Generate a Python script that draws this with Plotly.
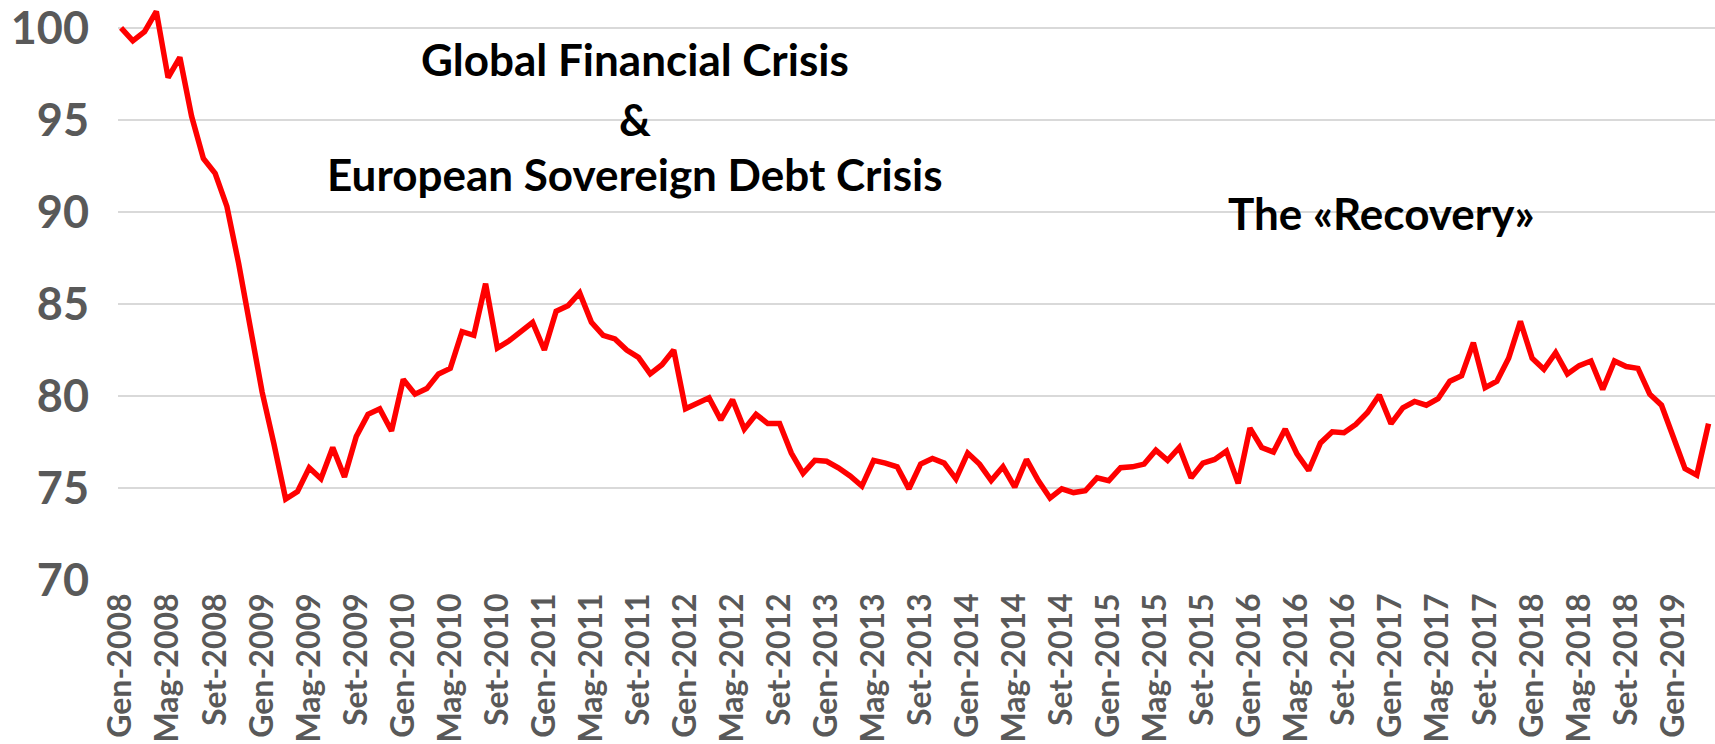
"""
Index chart 2008-2019 with crisis / recovery labels
"""

import plotly.graph_objects as go

# month abbreviations (Italian) and years covered
month_names = ["Gen", "Feb", "Mar", "Apr", "Mag", "Giu",
               "Lug", "Ago", "Set", "Ott", "Nov", "Dic"]
years = list(range(2008, 2020))

# index values, one list per year (Jan..Dec)
v2008 = [100.0, 99.3, 99.8, 100.9, 97.3, 98.4, 95.2, 92.9, 92.1, 90.3, 87.2, 83.5]
v2009 = [80.2, 77.4, 74.4, 74.8, 76.1, 75.5, 77.2, 75.6, 77.8, 79.0, 79.3, 78.1]
v2010 = [80.9, 80.1, 80.4, 81.2, 81.5, 83.5, 83.3, 86.1, 82.6, 83.0, 83.5, 84.0]
v2011 = [82.5, 84.6, 84.9, 85.6, 84.0, 83.3, 83.1, 82.5, 82.1, 81.2, 81.7, 82.5]
v2012 = [79.3, 79.6, 79.9, 78.7, 79.8, 78.2, 79.0, 78.5, 78.5, 76.9, 75.8, 76.5]
v2013 = [76.45, 76.1, 75.65, 75.1, 76.5, 76.35, 76.15, 74.95, 76.3, 76.6, 76.35, 75.5]
v2014 = [76.9, 76.3, 75.4, 76.15, 75.05, 76.55, 75.4, 74.45, 74.95, 74.75, 74.85, 75.55]
v2015 = [75.4, 76.1, 76.15, 76.3, 77.05, 76.5, 77.2, 75.55, 76.35, 76.55, 77.0, 75.25]
v2016 = [78.25, 77.2, 76.95, 78.2, 76.85, 75.95, 77.45, 78.05, 78.0, 78.45, 79.1, 80.05]
v2017 = [78.5, 79.35, 79.7, 79.5, 79.85, 80.8, 81.1, 82.9, 80.45, 80.8, 82.05, 84.05]
v2018 = [82.05, 81.45, 82.35, 81.2, 81.65, 81.9, 80.35, 81.9, 81.6, 81.5, 80.1, 79.5]
v2019 = [77.8, 76.05, 75.7, 78.5]

# annotation texts
label_crisis = ["Global Financial Crisis", "&", "European Sovereign Debt Crisis"]
label_recovery = "The «Recovery»"


def buildSeries():
    values = v2008 + v2009 + v2010 + v2011 + v2012 + v2013 + \
        v2014 + v2015 + v2016 + v2017 + v2018 + v2019
    labels = []
    for y in years:
        for m in month_names:
            labels.append(m + "-" + str(y))
    labels = labels[:len(values)]
    return labels, values


def makeLinePlot(labels, values):
    fig = go.Figure()
    fig.add_trace(go.Scatter(x=labels, y=values, mode="lines",
                             line=dict(color="#FF0000", width=5.5),
                             hoverinfo="x+y"))

    # text blocks
    crisis_y = [98.3, 95.05, 92.05]
    for txt, yy in zip(label_crisis, crisis_y):
        fig.add_annotation(text=txt, xref="paper", x=0.3237, yref="y", y=yy,
                           showarrow=False, xanchor="center", yanchor="middle",
                           font=dict(family="Lato", size=44, color="black",
                                     weight="bold"))
    fig.add_annotation(text=label_recovery, xref="paper", x=0.7909, yref="y",
                       y=89.95, showarrow=False, xanchor="center",
                       yanchor="middle",
                       font=dict(family="Lato", size=44, color="black",
                                 weight="bold"))

    fig.update_layout(
        width=1715, height=744,
        margin=dict(l=118, r=0, t=2, b=164),
        plot_bgcolor="white", paper_bgcolor="white",
        showlegend=False,
        font=dict(family="Lato", color="#595959"),
    )
    fig.update_xaxes(
        type="category",
        range=[-0.26, 135.55],
        tickvals=labels[::4],
        ticktext=labels[::4],
        tickangle=-90,
        tickfont=dict(family="Lato", size=32, color="#595959", weight="bold"),
        showgrid=False, zeroline=False, showline=False,
        ticks="", ticklabelstandoff=6, ticklabeloverflow="allow",
    )
    fig.update_yaxes(
        range=[70, 101.3],
        tickvals=[70, 75, 80, 85, 90, 95, 100],
        tickfont=dict(family="Lato", size=45, color="#595959", weight="bold"),
        showgrid=True, gridcolor="#D9D9D9", gridwidth=1.5,
        zeroline=False, showline=False,
        ticks="", ticklabelstandoff=28, ticklabeloverflow="allow",
    )
    return fig


if __name__ == "__main__":
    labels, values = buildSeries()
    fig = makeLinePlot(labels, values)
    fig.write_html("out.html", config={"displayModeBar": False},
                   post_script="document.body.style.margin='0';"
                               "document.body.style.overflow='hidden';")
